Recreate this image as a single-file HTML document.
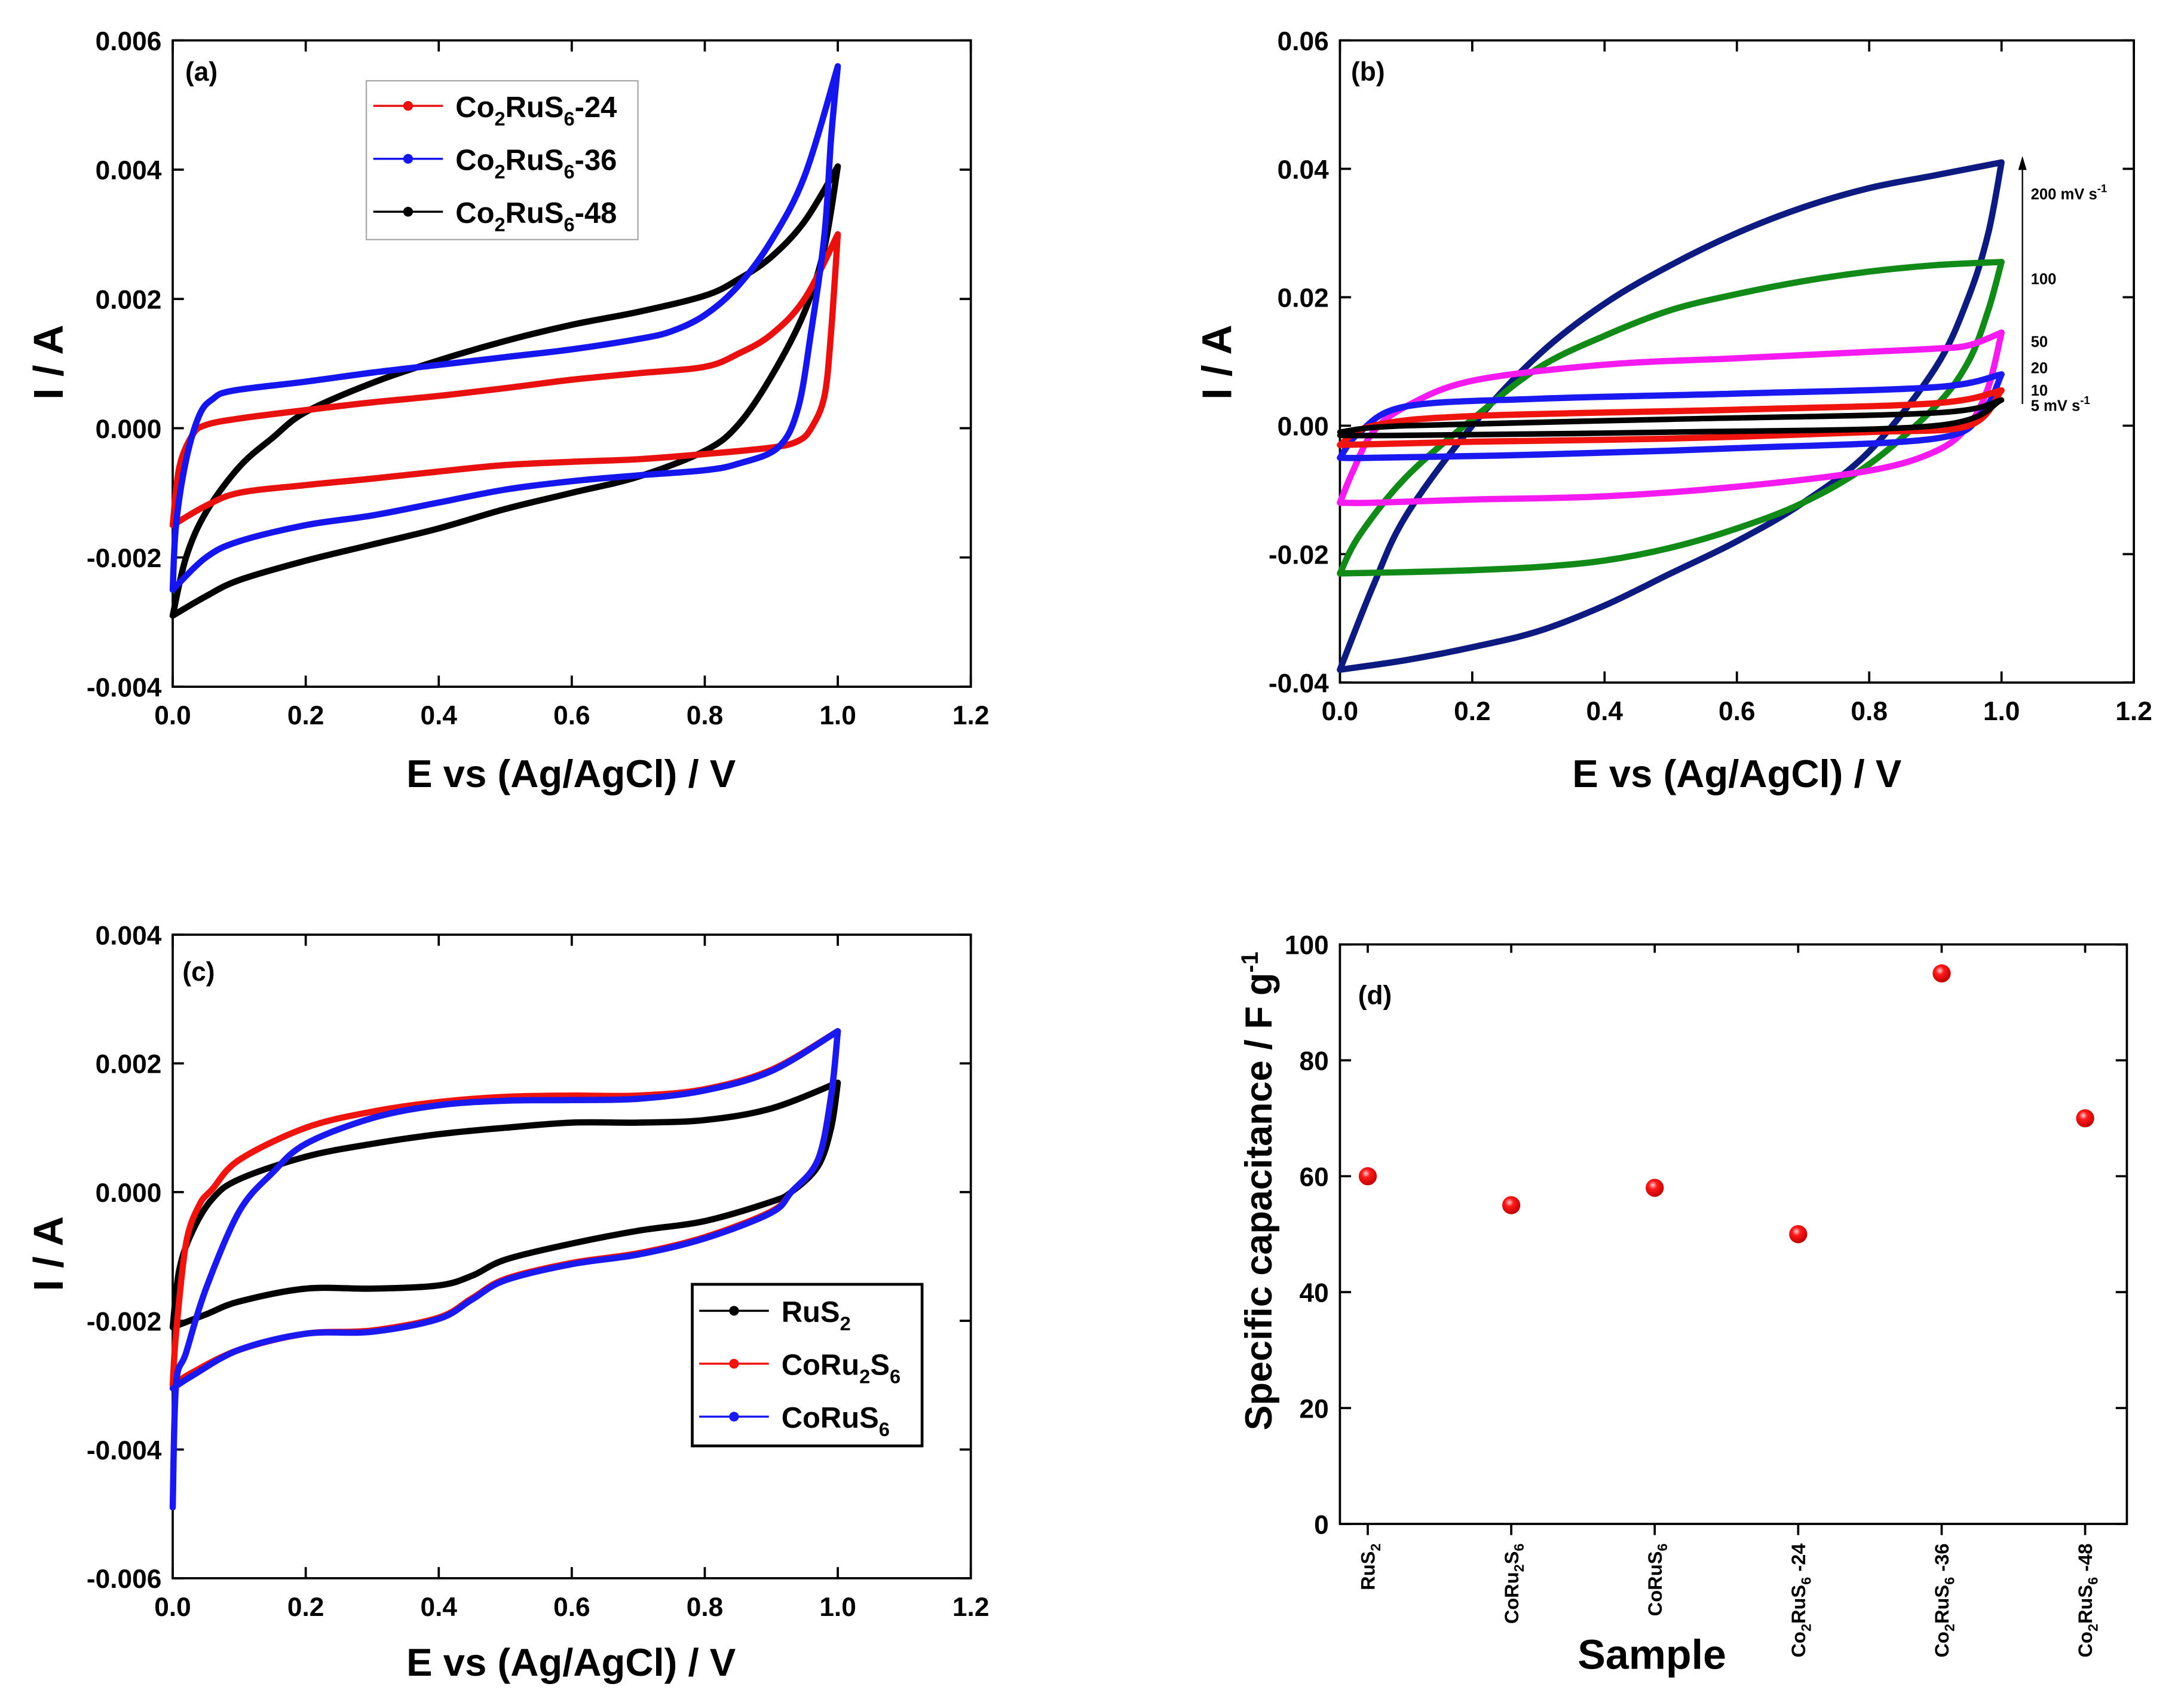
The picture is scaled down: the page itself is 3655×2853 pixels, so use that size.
<!DOCTYPE html>
<html><head><meta charset="utf-8"><style>
html,body{margin:0;padding:0;background:#fff;}
svg{display:block;font-family:"Liberation Sans",Arial,sans-serif;font-weight:bold;}
</style></head><body>
<svg id="fig" width="3655" height="2853" viewBox="0 0 1568 1224" preserveAspectRatio="none" xmlns="http://www.w3.org/2000/svg"></svg>
<script>
// ---------- Panel (a) data (E in V, I in mA) ----------
const aRedUpE=[0,0.01,0.03,0.05,0.1,0.2,0.3,0.4,0.5,0.6,0.7,0.8,0.85,0.9,0.95,1.0];
const aRedUpI=[-1.5,-0.6,-0.1,0.05,0.15,0.28,0.4,0.5,0.62,0.75,0.85,0.95,1.15,1.45,2.0,3.0];
const aRedDnE=[1.0,0.99,0.98,0.96,0.94,0.9,0.8,0.7,0.6,0.5,0.4,0.3,0.2,0.1,0.05,0];
const aRedDnI=[3.0,1.5,0.5,0,-0.2,-0.3,-0.4,-0.48,-0.52,-0.57,-0.67,-0.78,-0.88,-1.0,-1.2,-1.5];
const aBlueUpE=[0,0.005,0.02,0.04,0.06,0.09,0.2,0.3,0.4,0.5,0.6,0.7,0.75,0.8,0.85,0.9,0.95,1.0];
const aBlueUpI=[-2.5,-1.5,-0.5,0.2,0.45,0.58,0.72,0.86,0.98,1.1,1.22,1.38,1.5,1.75,2.2,2.9,3.9,5.6];
const aBlueDnE=[1.0,0.99,0.98,0.96,0.94,0.91,0.85,0.8,0.7,0.6,0.5,0.4,0.3,0.2,0.1,0.05,0];
const aBlueDnI=[5.6,4.5,3.0,1.5,0.3,-0.3,-0.55,-0.65,-0.73,-0.82,-0.95,-1.15,-1.35,-1.5,-1.75,-2.0,-2.5];
const aBlackUpE=[0,0.02,0.05,0.1,0.15,0.2,0.3,0.4,0.5,0.6,0.7,0.8,0.85,0.9,0.95,1.0];
const aBlackUpI=[-2.9,-2.0,-1.3,-0.6,-0.15,0.25,0.7,1.05,1.35,1.6,1.8,2.05,2.3,2.65,3.2,4.05];
const aBlackDnE=[1.0,0.98,0.95,0.9,0.85,0.8,0.7,0.6,0.5,0.4,0.3,0.2,0.1,0.05,0];
const aBlackDnI=[4.05,2.8,1.8,0.8,0.05,-0.35,-0.75,-1.0,-1.25,-1.55,-1.8,-2.05,-2.35,-2.6,-2.9];
// ---------- Panel (b) data (mA) ----------
const b200UpE=[0,0.05,0.1,0.2,0.3,0.4,0.5,0.6,0.7,0.8,0.9,1.0];
const b200UpI=[-38,-25,-14,0,11,19,25,30,34,37,39,41];
const b200DnE=[1.0,0.98,0.95,0.9,0.8,0.7,0.6,0.5,0.4,0.3,0.2,0.1,0];
const b200DnI=[41,30,20,9,-4,-12,-18,-23,-28,-32,-34.5,-36.5,-38];
const b100UpE=[0,0.03,0.1,0.2,0.3,0.4,0.5,0.6,0.7,0.8,0.9,1.0];
const b100UpI=[-23,-17,-8,1,9,14,18,20.5,22.5,24,25,25.5];
const b100DnE=[1.0,0.98,0.95,0.9,0.8,0.7,0.6,0.5,0.4,0.3,0.2,0.1,0];
const b100DnI=[25.5,18,10,3,-6,-12,-16,-19,-21,-22,-22.5,-22.8,-23];
const b50UpE=[0,0.02,0.05,0.1,0.2,0.4,0.6,0.8,0.9,0.95,1.0];
const b50UpI=[-12,-7,-1,3,7,9.5,10.5,11.5,12,12.5,14.5];
const b50DnE=[1.0,0.98,0.95,0.9,0.8,0.6,0.4,0.2,0.05,0];
const b50DnI=[14.5,6,0,-4,-7,-9.5,-11,-11.5,-12,-12];
const b20UpE=[0,0.03,0.1,0.3,0.6,0.9,1.0];
const b20UpI=[-5,-1,3,4.2,5,6,8];
const b20DnE=[1.0,0.97,0.9,0.6,0.3,0.05,0];
const b20DnI=[8,2,-2,-3.5,-4.5,-5,-5];
const b10UpE=[0,0.05,0.2,0.6,0.9,1.0];
const b10UpI=[-3,0,1.5,2.5,3.5,5.5];
const b10DnE=[1.0,0.95,0.8,0.5,0.2,0];
const b10DnI=[5.5,0,-1,-2,-2.5,-3];
const b5UpE=[0,0.1,0.5,0.9,1.0];
const b5UpI=[-1,0,1,2,4];
const b5DnE=[1.0,0.9,0.5,0.1,0];
const b5DnI=[4,0,-1,-1.5,-1.5];
// ---------- Panel (c) data (mA) ----------
const cBlackUpE=[0,0.01,0.03,0.06,0.1,0.2,0.3,0.4,0.5,0.6,0.7,0.8,0.9,1.0];
const cBlackUpI=[-2.1,-1.2,-0.6,-0.1,0.2,0.55,0.75,0.9,1.0,1.08,1.08,1.12,1.3,1.7];
const cBlackDnE=[1.0,0.99,0.97,0.93,0.9,0.8,0.7,0.6,0.5,0.45,0.4,0.3,0.2,0.1,0.05,0];
const cBlackDnI=[1.7,1.0,0.4,0,-0.15,-0.45,-0.6,-0.8,-1.05,-1.3,-1.45,-1.5,-1.5,-1.7,-1.9,-2.1];
const cRedUpE=[0,0.005,0.02,0.04,0.06,0.1,0.2,0.3,0.4,0.5,0.6,0.7,0.8,0.9,1.0];
const cRedUpI=[-3.0,-2.2,-0.8,-0.2,0.05,0.5,1.0,1.25,1.4,1.48,1.5,1.5,1.6,1.9,2.5];
const cRedDnE=[1.0,0.99,0.97,0.93,0.9,0.8,0.7,0.6,0.5,0.45,0.4,0.3,0.2,0.1,0.03,0];
const cRedDnI=[2.5,1.5,0.5,0,-0.3,-0.7,-0.95,-1.1,-1.35,-1.65,-1.95,-2.15,-2.2,-2.45,-2.8,-3.0];
const cBlueUpE=[0,0.005,0.02,0.05,0.1,0.15,0.2,0.3,0.4,0.5,0.6,0.7,0.8,0.9,1.0];
const cBlueUpI=[-4.9,-3.0,-2.5,-1.5,-0.3,0.3,0.75,1.15,1.35,1.42,1.43,1.45,1.58,1.88,2.5];
const cBlueDnE=[1.0,0.99,0.97,0.93,0.9,0.8,0.7,0.6,0.5,0.45,0.4,0.3,0.2,0.1,0.03,0];
const cBlueDnI=[2.5,1.5,0.5,0,-0.32,-0.72,-0.97,-1.12,-1.37,-1.67,-1.97,-2.17,-2.2,-2.45,-2.85,-3.05];
// ---------- Panel (d) data ----------
const dCategories=["RuS2","CoRu2S6","CoRuS6","Co2RuS6 -24","Co2RuS6 -36","Co2RuS6 -48"];
const dValues=[60,55,58,50,95,70];
const dTicks=[0,20,40,60,80,100];
const cvXTicks=[0,0.2,0.4,0.6,0.8,1.0,1.2];
const aYTicks=[-0.004,-0.002,0,0.002,0.004,0.006];
const bYTicks=[-0.04,-0.02,0,0.02,0.04,0.06];
const cYTicks=[-0.006,-0.004,-0.002,0,0.002,0.004];

const NS="http://www.w3.org/2000/svg";
const svg=document.getElementById('fig');
function el(tag,attrs,parent,text){const e=document.createElementNS(NS,tag);for(const k in attrs)e.setAttribute(k,attrs[k]);if(text!==undefined)e.textContent=text;(parent||svg).appendChild(e);return e;}

function panel(name,L,R,T,B,xmin,xmax,ymin,ymax,xt,yt,yfmt){
  const g=el('g',{},svg);
  
  
  const sx=v=>L+(v-xmin)/(xmax-xmin)*(R-L);
  const sy=v=>B-(v-ymin)/(ymax-ymin)*(B-T);
  return {g,sx,sy,L,R,T,B,xt,yt,yfmt};
}
function frame(p,xlabels){
  const f=el('rect',{x:p.L,y:p.T,width:p.R-p.L,height:p.B-p.T,fill:'none',stroke:'#000','stroke-width':1.6},p.g);
  
  if(xlabels!==false){
  p.xt.forEach(v=>{const x=p.sx(v);
    el('line',{x1:x,y1:p.B,x2:x,y2:p.B-8,stroke:'#000','stroke-width':1.6},p.g);
    el('line',{x1:x,y1:p.T,x2:x,y2:p.T+8,stroke:'#000','stroke-width':1.6},p.g);
    const t=el('text',{x:x,y:p.B+27,'text-anchor':'middle','font-size':19},p.g,v.toFixed(1));
    });
  }
  p.yt.forEach(v=>{const y=p.sy(v);
    el('line',{x1:p.L,y1:y,x2:p.L+8,y2:y,stroke:'#000','stroke-width':1.6},p.g);
    el('line',{x1:p.R,y1:y,x2:p.R-8,y2:y,stroke:'#000','stroke-width':1.6},p.g);
    const t=el('text',{x:p.L-8,y:y+7,'text-anchor':'end','font-size':19},p.g,p.yfmt(v));
    });
}
function smooth(pts){
  let d='M'+pts[0][0]+','+pts[0][1];
  for(let i=0;i<pts.length-1;i++){
    const p0=pts[Math.max(0,i-1)],p1=pts[i],p2=pts[i+1],p3=pts[Math.min(pts.length-1,i+2)];
    const c1x=p1[0]+(p2[0]-p0[0])/6,c1y=p1[1]+(p2[1]-p0[1])/6;
    const c2x=p2[0]-(p3[0]-p1[0])/6,c2y=p2[1]-(p3[1]-p1[1])/6;
    d+=` C${c1x},${c1y} ${c2x},${c2y} ${p2[0]},${p2[1]}`;
  }
  return d;
}
function curve(p,E1,I1,E2,I2,color,sw,name){
  const a=E1.map((e,i)=>[p.sx(e),p.sy(I1[i]/1000)]);
  const b=E2.map((e,i)=>[p.sx(e),p.sy(I2[i]/1000)]);
  const pl=el('path',{d:smooth(a)+' '+smooth(b),fill:'none',stroke:color,'stroke-width':sw,'stroke-linejoin':'round','stroke-linecap':'round'},p.g);
  
}
function axisTitles(p,cx,cy,yx,yy){
  const t=el('text',{x:cx,y:cy,'text-anchor':'middle','font-size':28},p.g,'E vs (Ag/AgCl) / V');
  
  const t2=el('text',{x:0,y:0,'text-anchor':'middle','font-size':30,transform:`translate(${yx},${yy}) rotate(-90)`},p.g,'I / A');
  
}
function plabel(p,x,y,s){const t=el('text',{x:x,y:y,'font-size':19},p.g,s);}
function legendEntry(p,x,y,color,html,name){
  const g=el('g',{},p.g);
  
  el('line',{x1:x,y1:y,x2:x+50,y2:y,stroke:color,'stroke-width':1.5},g);
  el('circle',{cx:x+25,cy:y,r:3.5,fill:color},g);
  const t=el('text',{x:x+59,y:y+8,'font-size':21},g);
  t.innerHTML=html;
}
const f3=v=>v.toFixed(3), f2=v=>v.toFixed(2);

// Panel a
const pa=panel('panel-a',124,697,29,493,0,1.2,-0.004,0.006,cvXTicks,aYTicks,f3);
frame(pa);
curve(pa,aBlackUpE,aBlackUpI,aBlackDnE,aBlackDnI,'#000',4.5,'series-co2rus6-48');
curve(pa,aRedUpE,aRedUpI,aRedDnE,aRedDnI,'#e8110f',4.5,'series-co2rus6-24');
curve(pa,aBlueUpE,aBlueUpI,aBlueDnE,aBlueDnI,'#1515ee',4.5,'series-co2rus6-36');
plabel(pa,133,58,'(a)');
const la=el('rect',{x:263,y:58,width:195,height:114,fill:'#fff',stroke:'#aaa','stroke-width':1},pa.g);

legendEntry(pa,268,76,'#e8110f','Co<tspan font-size="14" dy="6">2</tspan><tspan dy="-6">RuS</tspan><tspan font-size="14" dy="6">6</tspan><tspan dy="-6">-24</tspan>','legend-entry-24');
legendEntry(pa,268,114,'#1515ee','Co<tspan font-size="14" dy="6">2</tspan><tspan dy="-6">RuS</tspan><tspan font-size="14" dy="6">6</tspan><tspan dy="-6">-36</tspan>','legend-entry-36');
legendEntry(pa,268,152,'#000','Co<tspan font-size="14" dy="6">2</tspan><tspan dy="-6">RuS</tspan><tspan font-size="14" dy="6">6</tspan><tspan dy="-6">-48</tspan>','legend-entry-48');
axisTitles(pa,410,565,45,260);

// Panel b
const pb=panel('panel-b',962,1532,29,490,0,1.2,-0.04,0.06,cvXTicks,bYTicks,f2);
frame(pb);
curve(pb,b200UpE,b200UpI,b200DnE,b200DnI,'#0d1a80',4.5,'series-200mv');
curve(pb,b100UpE,b100UpI,b100DnE,b100DnI,'#118a18',4.5,'series-100mv');
curve(pb,b50UpE,b50UpI,b50DnE,b50DnI,'#f51af0',4.5,'series-50mv');
curve(pb,b20UpE,b20UpI,b20DnE,b20DnI,'#1a1af0',4.5,'series-20mv');
curve(pb,b10UpE,b10UpI,b10DnE,b10DnI,'#f0140f',4.5,'series-10mv');
curve(pb,b5UpE,b5UpI,b5DnE,b5DnI,'#000',4,'series-5mv');
plabel(pb,970,58,'(b)');
axisTitles(pb,1247,565,884,260);
el('line',{x1:1452,y1:290,x2:1452,y2:120,stroke:'#000','stroke-width':1},pb.g);
el('polygon',{points:'1449,122 1455,122 1452,112',fill:'#000'},pb.g);
[['200 mV s',140,true],['100',201,false],['50',246,false],['20',265,false],['10',281,false],['5 mV s',292,true]].forEach(a=>{
  const t=el('text',{x:1458,y:a[1]+3,'font-size':11},pb.g);
  
  t.innerHTML=a[0]+(a[2]?'<tspan font-size="8" dy="-5">-1</tspan>':'');
});

// Panel c
const pc=panel('panel-c',124,697,671,1133,0,1.2,-0.006,0.004,cvXTicks,cYTicks,f3);
frame(pc);
curve(pc,cBlackUpE,cBlackUpI,cBlackDnE,cBlackDnI,'#000',4.5,'series-rus2');
curve(pc,cRedUpE,cRedUpI,cRedDnE,cRedDnI,'#f0140f',4.5,'series-coru2s6');
curve(pc,cBlueUpE,cBlueUpI,cBlueDnE,cBlueDnI,'#1a1af0',4.5,'series-corus6');
plabel(pc,131,704,'(c)');
const lc=el('rect',{x:497,y:922,width:165,height:116,fill:'#fff',stroke:'#000','stroke-width':2},pc.g);

legendEntry(pc,502,941,'#000','RuS<tspan font-size="14" dy="6">2</tspan>','legend-entry-rus2');
legendEntry(pc,502,979,'#f0140f','CoRu<tspan font-size="14" dy="6">2</tspan><tspan dy="-6">S</tspan><tspan font-size="14" dy="6">6</tspan>','legend-entry-coru2s6');
legendEntry(pc,502,1017,'#1a1af0','CoRuS<tspan font-size="14" dy="6">6</tspan>','legend-entry-corus6');
axisTitles(pc,410,1203,45,900);

// Panel d
const pd=panel('panel-d',962,1527,678,1094,-0.194,5.291,0,100,[],dTicks,v=>String(v));
frame(pd,false);
const defs=el('defs',{});
const rg=el('radialGradient',{id:'ball',cx:'0.4',cy:'0.35',r:'0.65'},defs);
el('stop',{offset:'0','stop-color':'#ffd0d0'},rg);
el('stop',{offset:'0.35','stop-color':'#ff1a1a'},rg);
el('stop',{offset:'1','stop-color':'#c00000'},rg);
const subs={'RuS2':'RuS<tspan font-size="10" dy="4">2</tspan>','CoRu2S6':'CoRu<tspan font-size="10" dy="4">2</tspan><tspan dy="-4">S</tspan><tspan font-size="10" dy="4">6</tspan>','CoRuS6':'CoRuS<tspan font-size="10" dy="4">6</tspan>'};
dCategories.forEach((c,i)=>{
  const x=pd.sx(i);
  el('line',{x1:x,y1:pd.B,x2:x,y2:pd.B+8,stroke:'#000','stroke-width':1.6},pd.g);
  el('line',{x1:x,y1:pd.T,x2:x,y2:pd.T+6,stroke:'#000','stroke-width':1.6},pd.g);
  const pt=el('circle',{cx:x,cy:pd.sy(dValues[i]),r:6.5,fill:'url(#ball)'},pd.g);
  
  const t=el('text',{x:0,y:0,'text-anchor':'end','font-size':14,transform:`translate(${x+5},${pd.B+14}) rotate(-90)`},pd.g);
  
  if(subs[c])t.innerHTML=subs[c];
  else{const n=c.split(' ')[1];t.innerHTML='Co<tspan font-size="10" dy="4">2</tspan><tspan dy="-4">RuS</tspan><tspan font-size="10" dy="4">6</tspan><tspan dy="-4"> '+n+'</tspan>';}
});
plabel(pd,975,721,'(d)');
const st=el('text',{x:1186,y:1198,'text-anchor':'middle','font-size':30},pd.g,'Sample');

const yt=el('text',{x:0,y:0,'text-anchor':'middle','font-size':27,transform:'translate(913,855) rotate(-90)'},pd.g);

yt.innerHTML='Specific capacitance / F g<tspan font-size="17" dy="-10">-1</tspan>';
</script>
</body></html>
